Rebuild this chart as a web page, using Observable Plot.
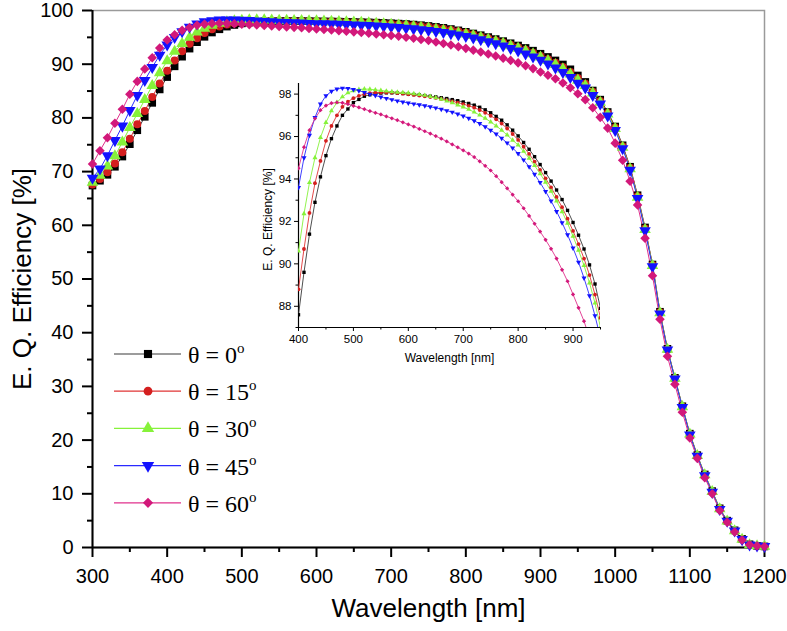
<!DOCTYPE html>
<html><head><meta charset="utf-8">
<script src="https://cdn.jsdelivr.net/npm/d3@7"></script>
<script src="https://cdn.jsdelivr.net/npm/@observablehq/plot@0.6"></script>
<style>
html,body{margin:0;padding:0;background:#fff;}
#wrap{position:relative;width:787px;height:631px;overflow:hidden;background:#fff;}
#wrap svg{position:absolute;}
</style></head><body><div id="wrap"></div>
<script>
const wavelength = [300,310,320,330,340,350,360,370,380,390,400,410,420,430,440,450,460,470,480,490,500,510,520,530,540,550,560,570,580,590,600,610,620,630,640,650,660,670,680,690,700,710,720,730,740,750,760,770,780,790,800,810,820,830,840,850,860,870,880,890,900,910,920,930,940,950,960,970,980,990,1000,1010,1020,1030,1040,1050,1060,1070,1080,1090,1100,1110,1120,1130,1140,1150,1160,1170,1180,1190,1200];
const eqe0 = [67.4,68.3,69.4,70.9,72.8,75.1,77.7,80.2,82.8,85.3,
  87.6,89.6,91.4,92.9,94.1,95.1,95.9,96.5,97.0,97.3,
  97.6,97.75,97.9,97.97,98.02,98.05,98.06,98.06,98.05,98.03,
  98.0,97.98,97.96,97.93,97.9,97.87,97.83,97.79,97.74,97.69,
  97.63,97.56,97.48,97.38,97.26,97.12,96.95,96.77,96.55,96.3,
  96.03,95.72,95.4,95.05,94.68,94.3,93.9,93.48,93.03,92.52,
  91.95,91.35,90.7,89.95,89.05,87.9,86.7,85.1,83.4,81.1,
  78.4,74.9,70.9,65.6,59.6,52.7,43.9,37.0,31.6,26.3,
  21.2,17.2,13.6,10.5,7.3,5.0,3.2,1.6,0.6,0.3,0.2];
const eqe15 = [67.6,68.6,69.9,71.5,73.6,76.1,78.8,81.3,83.9,86.4,
  88.8,90.7,92.4,93.8,94.85,95.8,96.5,97.0,97.4,97.64,
  97.81,97.92,98.0,98.05,98.07,98.08,98.08,98.07,98.05,98.02,
  97.99,97.96,97.93,97.9,97.86,97.82,97.77,97.72,97.66,97.6,
  97.53,97.45,97.36,97.25,97.12,96.98,96.81,96.61,96.38,96.12,
  95.84,95.52,95.18,94.82,94.43,94.03,93.6,93.15,92.67,92.13,
  91.55,90.93,90.25,89.47,88.55,87.45,86.35,84.85,83.15,80.9,
  78.2,74.7,70.7,65.4,59.4,52.6,43.8,36.9,31.5,26.2,
  21.1,17.1,13.5,10.4,7.2,4.9,3.1,1.5,0.5,0.3,0.2];
const eqe30 = [68.0,69.3,71.0,72.9,75.5,78.2,80.8,83.4,86.0,88.4,
  90.6,92.36,93.83,95.0,95.95,96.66,97.21,97.61,97.87,98.06,
  98.16,98.22,98.24,98.23,98.2,98.17,98.14,98.11,98.09,98.07,
  98.05,98.02,97.98,97.94,97.89,97.83,97.76,97.68,97.59,97.49,
  97.39,97.28,97.15,97.01,96.86,96.69,96.5,96.3,96.07,95.83,
  95.6,95.3,94.98,94.63,94.25,93.85,93.42,92.96,92.46,91.91,
  91.3,90.64,89.92,89.1,88.15,87.0,86.0,84.6,82.9,80.7,
  78.0,74.5,70.5,65.2,59.2,52.5,43.7,36.9,31.5,26.2,
  21.1,17.1,13.5,10.4,7.2,4.9,3.1,1.5,0.5,0.3,0.2];
const eqe45 = [68.8,70.5,73.0,75.8,78.5,81.4,84.2,87.0,89.4,91.7,
  93.6,95.0,96.06,96.9,97.53,97.92,98.13,98.24,98.28,98.27,
  98.22,98.16,98.08,98.0,97.93,97.86,97.8,97.74,97.68,97.63,
  97.58,97.54,97.5,97.45,97.4,97.35,97.29,97.22,97.15,97.06,
  96.97,96.86,96.74,96.61,96.46,96.3,96.12,95.92,95.7,95.46,
  95.2,94.9,94.58,94.22,93.83,93.41,92.96,92.47,91.94,91.37,
  90.75,90.08,89.33,88.5,87.55,86.5,85.6,84.2,82.6,80.4,
  77.7,74.3,70.3,65.0,59.0,52.3,43.5,36.8,31.4,26.1,
  21.0,17.0,13.4,10.3,7.1,4.9,3.1,1.5,0.5,0.3,0.2];
const eqe60 = [71.4,73.9,76.3,79.0,81.6,84.4,86.8,89.1,91.2,93.0,
  94.5,95.5,96.3,96.85,97.24,97.46,97.57,97.61,97.59,97.53,
  97.45,97.37,97.29,97.2,97.12,97.04,96.95,96.86,96.77,96.67,
  96.57,96.47,96.36,96.25,96.14,96.02,95.9,95.77,95.63,95.49,
  95.35,95.2,95.03,94.83,94.62,94.4,94.13,93.85,93.56,93.26,
  92.95,92.62,92.26,91.89,91.52,91.13,90.71,90.25,89.72,89.18,
  88.56,87.93,87.3,86.5,85.6,84.5,83.4,81.9,80.1,78.1,
  75.3,72.1,68.2,63.8,57.6,50.6,42.5,35.6,30.4,25.2,
  20.4,16.6,13.0,10.0,6.9,4.7,2.9,1.4,0.5,0.3,0.2];

const angles = [0, 15, 30, 45, 60];
const markerColors = ["#000000", "#d41f1f", "#86f23a", "#1212ff", "#d2187a"];
const lineColors = ["#3a3a3a", "#e03434", "#86f23a", "#2a2aff", "#e0308c"];
const xTicks = [300,400,500,600,700,800,900,1000,1100,1200];
const xMinorTicks = [350,450,550,650,750,850,950,1050,1150];
const yTicks = [0,10,20,30,40,50,60,70,80,90,100];
const yMinorTicks = [5,15,25,35,45,55,65,75,85,95];
const insetXTicks = [400,500,600,700,800,900];
const insetXMinorTicks = [450,550,650,750,850,950];
const insetYTicks = [88,90,92,94,96,98];
const insetYMinorTicks = [87,89,91,93,95,97];

const series = [eqe0, eqe15, eqe30, eqe45, eqe60];
const triangleDown = {
  draw(context, size) {
    const y = -Math.sqrt(size / (Math.sqrt(3) * 3));
    context.moveTo(0, -y * 2);
    context.lineTo(-Math.sqrt(3) * y, y);
    context.lineTo(Math.sqrt(3) * y, y);
    context.closePath();
  }
};
const symbolFor = (name) => ({
  square: d3.symbolSquare, circle: d3.symbolCircle, triangle: d3.symbolTriangle,
  triangleDown: triangleDown, diamond: d3.symbolDiamond2
})[name];
const symbolNames = ["square", "circle", "triangle", "triangleDown", "diamond"];

const rows = series.map((vals, i) => wavelength.map((w, j) => ({w, v: vals[j], s: i})));

const font = "'Liberation Sans', Arial, Helvetica, sans-serif";

// ---------- main chart ----------
const mainMarks = [
  Plot.frame({stroke: "#9a9a9a", strokeWidth: 1.5}),
  Plot.axisX({ticks: xMinorTicks, tickSize: 5, tickFormat: () => "", strokeWidth: 2, label: null}),
  Plot.axisX({ticks: xTicks, tickSize: 10, tickPadding: 11, fontSize: 20, strokeWidth: 2, label: null, tickFormat: d => String(d)}),
  Plot.axisY({ticks: yMinorTicks, tickSize: 5, tickFormat: () => "", strokeWidth: 2, label: null}),
  Plot.axisY({ticks: yTicks, tickSize: 10, tickPadding: 9, fontSize: 20, strokeWidth: 2, label: null, tickFormat: d => String(d)}),
  Plot.ruleX([300], {strokeWidth: 2}),
  Plot.ruleY([0], {strokeWidth: 2}),
  Plot.text(["Wavelength [nm]"], {frameAnchor: "bottom", dy: 61, fontSize: 26, lineAnchor: "middle", textAnchor: "middle"}),
  Plot.text(["E. Q. Efficiency [%]"], {frameAnchor: "left", dx: -70, rotate: -90, fontSize: 26, textAnchor: "middle", lineAnchor: "middle"})
];
rows.forEach((data, i) => {
  mainMarks.push(Plot.line(data, {x: "w", y: "v", stroke: lineColors[i], strokeWidth: 1}));
});
rows.forEach((data, i) => {
  mainMarks.push(Plot.dot(data, {x: "w", y: "v", symbol: symbolFor(symbolNames[i]), r: i === 1 ? 4 : 4.3, fill: markerColors[i], stroke: "none"}));
});

const main = Plot.plot({
  width: 787, height: 631,
  marginLeft: 92, marginRight: 23, marginTop: 10, marginBottom: 84,
  x: {domain: [300, 1200]},
  y: {domain: [0, 100]},
  style: {fontFamily: font, background: "transparent", color: "#000", overflow: "visible"},
  marks: mainMarks
});
main.style.left = "0px"; main.style.top = "0px";
document.getElementById("wrap").appendChild(main);

// legend
const lg = d3.select(main).append("g")
  .attr("font-family", "'Liberation Serif', 'Times New Roman', serif")
  .attr("font-size", 24)
  .attr("text-anchor", "start");
angles.forEach((a, i) => {
  const yy = 354 + i * 37.2;
  lg.append("line").attr("x1", 114).attr("x2", 181).attr("y1", yy).attr("y2", yy)
    .attr("stroke", lineColors[i]).attr("stroke-width", 1.2);
  lg.append("path").attr("transform", `translate(148,${yy})`)
    .attr("d", d3.symbol(symbolFor(symbolNames[i]), i === 1 ? 60 : 66)())
    .attr("fill", markerColors[i]);
  const t = lg.append("text").attr("x", 188).attr("y", yy + 9).attr("fill", "#000").attr("text-anchor", "start");
  t.append("tspan").text(`θ = ${a}`);
  t.append("tspan").attr("dy", -10).attr("font-size", 15).text("o");
});

// ---------- inset ----------
const insetMarks = [
  Plot.axisX({ticks: insetXMinorTicks, tickSize: 2.5, tickFormat: () => "", label: null}),
  Plot.axisX({ticks: insetXTicks, tickSize: 4, tickPadding: 3, fontSize: 11.5, label: null, tickFormat: d => String(d)}),
  Plot.axisY({ticks: insetYMinorTicks, tickSize: 2.5, tickFormat: () => "", label: null}),
  Plot.axisY({ticks: insetYTicks, tickSize: 4, tickPadding: 3, fontSize: 11.5, label: null, tickFormat: d => String(d)}),
  Plot.ruleX([400], {strokeWidth: 1.2}),
  Plot.ruleY([87], {strokeWidth: 1.2}),
  Plot.text(["Wavelength [nm]"], {frameAnchor: "bottom", dy: 31, fontSize: 12, lineAnchor: "middle", textAnchor: "middle"}),
  Plot.text(["E. Q. Efficiency [%]"], {frameAnchor: "left", dx: -30, dy: 14, rotate: -90, fontSize: 12, textAnchor: "middle", lineAnchor: "middle"})
];
const insetRows = rows.map(data => data.filter(d => d.w >= 400 && d.w <= 950));
insetRows.forEach((data, i) => {
  insetMarks.push(Plot.line(data, {x: "w", y: "v", stroke: lineColors[i], strokeWidth: 0.9, clip: true}));
});
insetRows.forEach((data, i) => {
  insetMarks.push(Plot.dot(data, {x: "w", y: "v", symbol: symbolFor(symbolNames[i]), r: 1.9, fill: markerColors[i], stroke: "none", clip: true}));
});
const inset = Plot.plot({
  width: 362, height: 289,
  marginLeft: 50, marginRight: 10, marginTop: 5, marginBottom: 40,
  x: {domain: [400, 950]},
  y: {domain: [87, 98.5]},
  style: {fontFamily: font, background: "transparent", color: "#000", overflow: "visible"},
  marks: insetMarks
});
inset.style.left = "248px"; inset.style.top = "78px";
document.getElementById("wrap").appendChild(inset);
</script></body></html>
